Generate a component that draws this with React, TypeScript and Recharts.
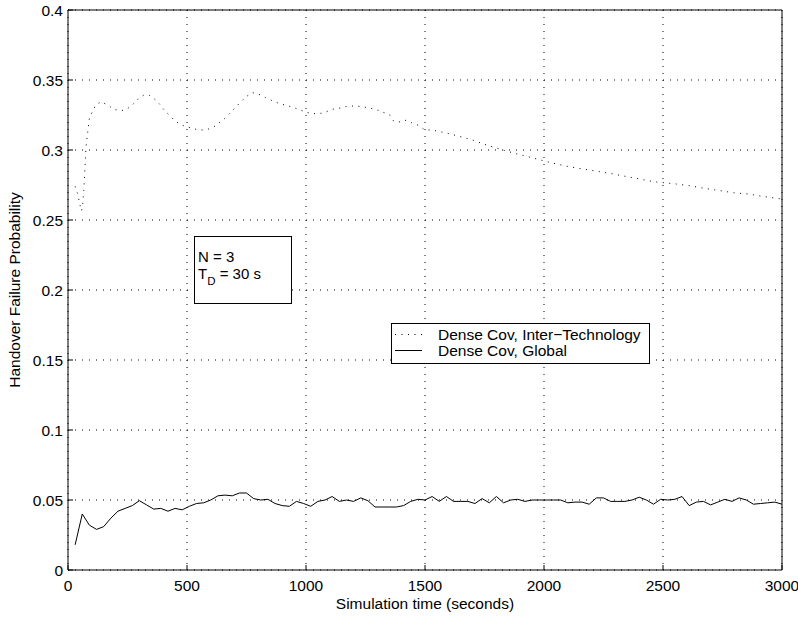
import { LineChart, Line, XAxis, YAxis, CartesianGrid, Legend } from "recharts";

// Dense coverage, global handover failure probability (sampled every 30 s)
const GLOBAL_TIME = [
  30, 60, 90, 120, 150, 180, 210, 240, 270, 300, 330, 360, 390, 420, 450, 480, 510, 540, 570, 600,
  630, 660, 690, 720, 750, 780, 810, 840, 870, 900, 930, 960, 990, 1020, 1050, 1080, 1110, 1140, 1170, 1200,
  1230, 1260, 1290, 1320, 1350, 1380, 1410, 1440, 1470, 1500, 1530, 1560, 1590, 1620, 1650, 1680, 1710, 1740, 1770, 1800,
  1830, 1860, 1890, 1920, 1950, 1980, 2010, 2040, 2070, 2100, 2130, 2160, 2190, 2220, 2250, 2280, 2310, 2340, 2370, 2400,
  2430, 2460, 2490, 2520, 2550, 2580, 2610, 2640, 2670, 2700, 2730, 2760, 2790, 2820, 2850, 2880, 2910, 2940, 2970, 3000,
];
const GLOBAL_PROB = [
  0.018, 0.04, 0.032, 0.029, 0.031, 0.037, 0.042, 0.044, 0.046, 0.0495, 0.0465, 0.0435, 0.044, 0.042, 0.044, 0.043, 0.0455, 0.0475, 0.048, 0.05,
  0.053, 0.0535, 0.053, 0.055, 0.055, 0.051, 0.05, 0.0505, 0.0475, 0.046, 0.0455, 0.049, 0.0475, 0.0455, 0.049, 0.05, 0.0525, 0.049, 0.05, 0.049,
  0.0515, 0.0495, 0.045, 0.045, 0.045, 0.045, 0.046, 0.049, 0.0505, 0.05, 0.0525, 0.049, 0.0525, 0.049, 0.049, 0.049, 0.0475, 0.051, 0.048, 0.0525,
  0.048, 0.05, 0.0505, 0.049, 0.05, 0.05, 0.05, 0.05, 0.05, 0.048, 0.0485, 0.0485, 0.047, 0.0515, 0.0515, 0.049, 0.049, 0.049, 0.05, 0.052,
  0.05, 0.047, 0.0505, 0.05, 0.0505, 0.0525, 0.046, 0.0485, 0.049, 0.0465, 0.0485, 0.0505, 0.049, 0.0515, 0.05, 0.047, 0.0475, 0.048, 0.0485, 0.047,
];

// Dense coverage, inter-technology handover failure probability
const INTER_TIME = [
  30, 40, 50, 57, 62, 66, 70, 73, 76, 83, 90, 101, 118, 141, 166, 195, 220, 246, 272, 292,
  316, 342, 367, 386, 407, 428, 450, 475, 498, 530, 561, 591, 617, 640, 664, 685, 706, 727, 748, 774,
  802, 830, 858, 886, 914, 942, 971, 998, 1028, 1058, 1086, 1117, 1145, 1175, 1205, 1236, 1265, 1294, 1322, 1350,
  1366, 1387, 1415, 1443, 1471, 1500, 1527, 1583, 1639, 1702, 1758, 1814, 1877, 1933, 1996, 2053, 2108, 2171, 2234, 2290,
  2347, 2402, 2458, 2500, 2556, 2619, 2675, 2738, 2794, 2857, 2913, 2976, 3000,
];
const INTER_PROB = [
  0.274, 0.269, 0.261, 0.2565, 0.262, 0.271, 0.282, 0.293, 0.303, 0.313, 0.3225, 0.327, 0.3325, 0.3345, 0.332, 0.329, 0.328, 0.329, 0.3325, 0.336,
  0.339, 0.339, 0.336, 0.3325, 0.328, 0.3245, 0.3207, 0.318, 0.3167, 0.315, 0.3143, 0.315, 0.317, 0.32, 0.3233, 0.327, 0.331, 0.3345, 0.338, 0.341,
  0.3398, 0.3374, 0.3352, 0.3333, 0.332, 0.3307, 0.329, 0.327, 0.326, 0.326, 0.3274, 0.3293, 0.33, 0.3314, 0.3314, 0.331, 0.33, 0.329, 0.327, 0.3255,
  0.321, 0.3198, 0.3214, 0.3195, 0.3177, 0.3143, 0.3143, 0.3124, 0.31, 0.307, 0.3036, 0.3007, 0.2976, 0.2952, 0.2924, 0.29, 0.288, 0.2862, 0.2845, 0.2829,
  0.281, 0.2793, 0.2774, 0.2767, 0.2757, 0.2743, 0.2726, 0.271, 0.2695, 0.2686, 0.267, 0.2655, 0.265,
];

const X_TICKS = [0, 500, 1000, 1500, 2000, 2500, 3000];
const Y_TICKS = [0, 0.05, 0.1, 0.15, 0.2, 0.25, 0.3, 0.35, 0.4];

const INTER_NAME = "Dense Cov, Inter−Technology";
const GLOBAL_NAME = "Dense Cov, Global";

const FONT = '"Liberation Sans", Arial, Helvetica, sans-serif';
const FS = 15.5;
const DOTTED = "1 5.5";

const interData = INTER_TIME.map((t, i) => ({ t, inter: INTER_PROB[i] }));
const globalData = GLOBAL_TIME.map((t, i) => ({ t, global: GLOBAL_PROB[i] }));

const LEGEND_ORDER = ["inter", "global"];
const LEGEND_DASH: Record<string, string | undefined> = { inter: DOTTED, global: undefined };

function BoxedLegend({ payload }: any) {
  const items = [...(payload ?? [])].sort(
    (a: any, b: any) => LEGEND_ORDER.indexOf(a.dataKey) - LEGEND_ORDER.indexOf(b.dataKey)
  );
  return (
    <div
      style={{
        width: 259,
        height: 41,
        boxSizing: "border-box",
        border: "1px solid #000",
        background: "#fff",
        paddingTop: 3,
        fontFamily: FONT,
        fontSize: FS,
        color: "#000",
      }}
    >
      {items.map((entry: any) => (
        <div key={entry.dataKey} style={{ display: "flex", alignItems: "center", height: 15.5, lineHeight: "15.5px" }}>
          <svg width={28} height={15} style={{ marginLeft: 3, flex: "none" }}>
            <line x1={0} y1={7.5} x2={27} y2={7.5} stroke="#000" strokeWidth={1} strokeDasharray={LEGEND_DASH[entry.dataKey]} />
          </svg>
          <span style={{ marginLeft: 15, whiteSpace: "nowrap" }}>{entry.value}</span>
        </div>
      ))}
    </div>
  );
}

export default function App() {
  return (
    <div style={{ position: "absolute", left: 0, top: 0, width: 798, height: 617, background: "#fff", fontFamily: FONT }}>
      <LineChart width={798} height={617} margin={{ top: 0, right: 0, bottom: 0, left: 0 }}>
        <CartesianGrid xAxisId="bottom" yAxisId="left" stroke="#000" strokeDasharray="1 6" />
        <XAxis
          xAxisId="bottom"
          type="number"
          dataKey="t"
          domain={[0, 3000]}
          ticks={X_TICKS}
          interval={0}
          allowDataOverflow
          height={47}
          stroke="#000"
          tickSize={-5}
          tickMargin={15}
          tick={{ fill: "#000", fontSize: FS, fontFamily: FONT }}
          label={{ value: "Simulation time (seconds)", position: "insideBottom", offset: 8, fill: "#000", fontSize: FS, fontFamily: FONT }}
        />
        <XAxis
          xAxisId="top"
          orientation="top"
          type="number"
          domain={[0, 3000]}
          ticks={X_TICKS}
          interval={0}
          allowDataOverflow
          height={10}
          stroke="#000"
          tickSize={-5}
          tick={false}
        />
        <YAxis
          yAxisId="left"
          type="number"
          domain={[0, 0.4]}
          ticks={Y_TICKS}
          interval={0}
          allowDataOverflow
          width={68}
          stroke="#000"
          tickSize={-5}
          tickMargin={10}
          tick={{ fill: "#000", fontSize: FS, fontFamily: FONT }}
          label={{
            value: "Handover Failure Probability",
            angle: -90,
            position: "insideLeft",
            offset: 14,
            fill: "#000",
            fontSize: FS,
            fontFamily: FONT,
            style: { textAnchor: "middle" },
          }}
        />
        <YAxis
          yAxisId="right"
          orientation="right"
          type="number"
          domain={[0, 0.4]}
          ticks={Y_TICKS}
          interval={0}
          allowDataOverflow
          width={16}
          stroke="#000"
          tickSize={-5}
          tick={false}
        />
        <Line
          xAxisId="bottom"
          yAxisId="left"
          data={interData}
          dataKey="inter"
          name={INTER_NAME}
          type="linear"
          stroke="#000"
          strokeWidth={1}
          strokeDasharray={DOTTED}
          dot={false}
          activeDot={false}
          isAnimationActive={false}
        />
        <Line
          xAxisId="bottom"
          yAxisId="left"
          data={globalData}
          dataKey="global"
          name={GLOBAL_NAME}
          type="linear"
          stroke="#000"
          strokeWidth={1}
          dot={false}
          activeDot={false}
          isAnimationActive={false}
        />
        <Legend
          layout="horizontal"
          verticalAlign="middle"
          align="center"
          content={<BoxedLegend />}
          wrapperStyle={{ left: 391, top: 323, width: 259, height: 41 }}
        />
      </LineChart>
      <div
        style={{
          position: "absolute",
          left: 194,
          top: 236,
          width: 98,
          height: 68,
          boxSizing: "border-box",
          border: "1px solid #000",
          background: "#fff",
          paddingLeft: 3,
          paddingTop: 11,
          fontSize: 15,
          lineHeight: "17px",
          color: "#000",
        }}
      >
        <div>N = 3</div>
        <div>
          T
          <span style={{ position: "relative", top: 6, fontSize: 11.5 }}>D</span> = 30 s
        </div>
      </div>
    </div>
  );
}
